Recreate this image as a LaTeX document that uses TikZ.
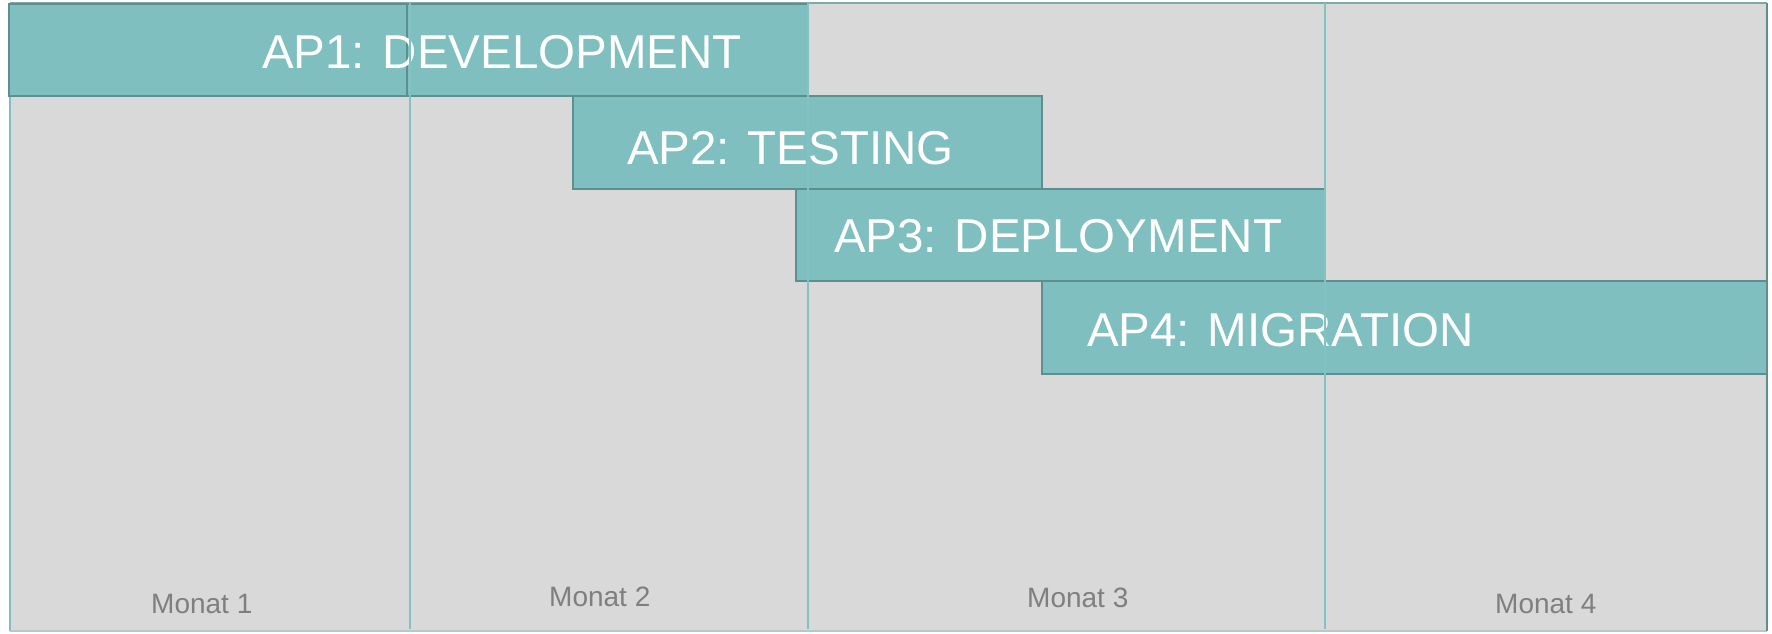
\documentclass[tikz,border=0pt]{standalone}
\usepackage{fontspec}
\setmainfont{Liberation Sans}
\definecolor{bg}{HTML}{D9D9D9}
\definecolor{barfill}{HTML}{80BFBF}
\definecolor{barline}{HTML}{5E8F8F}
\definecolor{divline}{HTML}{80C3C3}
\definecolor{frameleft}{HTML}{80BFBF}
\definecolor{frametop}{HTML}{7FA8A8}
\definecolor{framebottom}{HTML}{B5C9C9}
\definecolor{monthtext}{HTML}{7F7F7F}
\tikzset{
  bar/.style={fill=barfill, draw=barline, line width=2.5pt},
  barlabel/.style={anchor=base west, inner sep=0pt, text=white,
    font=\fontsize{47.5}{56}\selectfont},
  monthlabel/.style={anchor=base west, inner sep=0pt, text=monthtext,
    font=\fontsize{28}{34}\selectfont},
  divider/.style={draw=divline, line width=1.6pt},
}
\begin{document}
\begin{tikzpicture}[x=1pt,y=-1pt]
\useasboundingbox (0,0) rectangle (1772,633);

% chart background and frame
\fill[bg] (10,3) rectangle (1767,631);
\draw[frameleft, line width=2pt] (10,3) -- (10,631);
\draw[framebottom, line width=2pt] (10,631) -- (1767,631);
\draw[frametop, line width=2pt] (10,3) -- (1767,3);
\draw[barline, line width=2.5pt] (1767,3) -- (1767,631);

% work packages
\draw[bar] (9,4) rectangle (808,96);
\draw[barline, line width=2.5pt] (407,4) -- (407,96);
\draw[bar] (573,96) rectangle (1042,189);
\draw[bar] (796,189) rectangle (1325,281);
\draw[bar] (1042,281) rectangle (1767,374);

\node[barlabel] (ap1) at (262,68) {AP1: DEVELOPMENT};
\node[barlabel] (ap2) at (627,164) {AP2: TESTING};
\node[barlabel] (ap3) at (834,252) {AP3: DEPLOYMENT};
\node[barlabel] (ap4) at (1087,346) {AP4: MIGRATION};

% month boundaries
\draw[divider] (410,3) -- (410,629);
\draw[divider] (808,3) -- (808,629);
\draw[divider] (1325,3) -- (1325,629);

% month captions
\node[monthlabel] (m1) at (151,613) {Monat 1};
\node[monthlabel] (m2) at (549,606) {Monat 2};
\node[monthlabel] (m3) at (1027,607) {Monat 3};
\node[monthlabel] (m4) at (1495,613) {Monat 4};
\end{tikzpicture}
\end{document}
